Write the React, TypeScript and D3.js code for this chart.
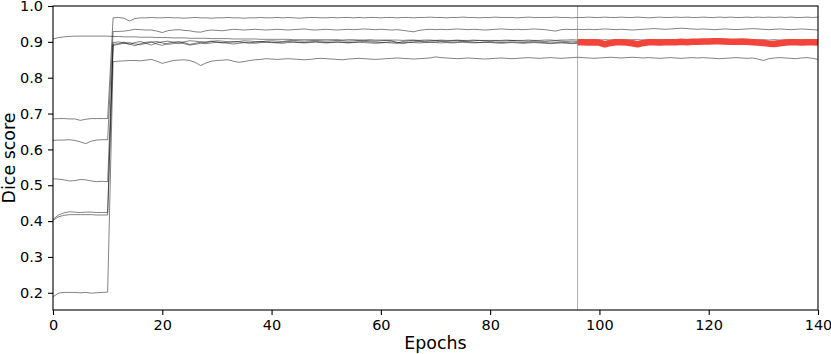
import React, { useEffect, useRef } from 'react';
import * as d3 from 'd3';

// epochs 0..140, one value per epoch
const seriesA = [0.685,0.686,0.686,0.685,0.685,0.681,0.684,0.686,0.686,0.686,0.686,
  0.967,0.968,0.966,0.958,0.965,0.967,0.967,0.968,0.967,0.967,
  0.968,0.967,0.967,0.966,0.967,0.968,0.967,0.967,0.966,0.967,
  0.967,0.968,0.967,0.967,0.966,0.967,0.967,0.968,0.967,0.967,
  0.968,0.967,0.968,0.967,0.966,0.967,0.968,0.968,0.967,0.967,
  0.968,0.967,0.968,0.968,0.967,0.968,0.967,0.968,0.968,0.967,
  0.968,0.968,0.967,0.968,0.968,0.967,0.968,0.968,0.969,0.968,
  0.968,0.967,0.968,0.968,0.969,0.968,0.968,0.967,0.968,0.968,
  0.969,0.968,0.968,0.968,0.967,0.968,0.969,0.968,0.968,0.968,
  0.968,0.969,0.968,0.968,0.967,0.968,0.968,0.969,0.968,0.968,
  0.969,0.968,0.968,0.969,0.968,0.968,0.969,0.968,0.967,0.968,
  0.969,0.968,0.968,0.969,0.968,0.969,0.968,0.968,0.969,0.968,
  0.968,0.969,0.968,0.969,0.968,0.968,0.969,0.968,0.969,0.968,
  0.969,0.968,0.969,0.968,0.969,0.968,0.968,0.969,0.968,0.969];

const seriesB = [0.625,0.626,0.626,0.627,0.625,0.621,0.616,0.623,0.626,0.627,0.627,
  0.929,0.929,0.930,0.932,0.935,0.934,0.933,0.933,0.930,0.926,
  0.931,0.933,0.934,0.932,0.931,0.928,0.927,0.931,0.933,0.932,
  0.931,0.933,0.935,0.934,0.933,0.934,0.935,0.934,0.933,0.934,
  0.935,0.934,0.933,0.934,0.935,0.936,0.934,0.933,0.934,0.935,
  0.934,0.933,0.934,0.935,0.934,0.935,0.936,0.935,0.934,0.935,
  0.934,0.933,0.934,0.932,0.930,0.928,0.932,0.934,0.935,0.934,
  0.935,0.934,0.935,0.936,0.935,0.934,0.935,0.934,0.933,0.934,
  0.935,0.936,0.935,0.934,0.935,0.934,0.935,0.936,0.935,0.934,
  0.932,0.930,0.934,0.935,0.934,0.935,0.934,0.935,0.934,0.935,
  0.936,0.935,0.934,0.935,0.934,0.933,0.934,0.935,0.936,0.937,
  0.936,0.935,0.936,0.937,0.938,0.937,0.936,0.935,0.936,0.935,
  0.934,0.935,0.936,0.935,0.934,0.935,0.936,0.937,0.936,0.935,
  0.934,0.935,0.936,0.935,0.934,0.935,0.936,0.935,0.934,0.933];

const seriesC = [0.908,0.912,0.914,0.915,0.916,0.916,0.916,0.916,0.916,0.916,0.916,
  0.915,0.915,0.914,0.914,0.914,0.913,0.913,0.913,0.912,0.912,
  0.912,0.911,0.911,0.911,0.910,0.910,0.910,0.910,0.909,0.909,
  0.909,0.909,0.908,0.908,0.908,0.908,0.908,0.907,0.907,0.907,
  0.907,0.907,0.907,0.906,0.906,0.906,0.906,0.906,0.906,0.906,
  0.906,0.906,0.905,0.906,0.906,0.905,0.905,0.906,0.905,0.905,
  0.905,0.905,0.905,0.904,0.905,0.905,0.904,0.905,0.905,0.904,
  0.905,0.904,0.904,0.905,0.904,0.904,0.905,0.904,0.904,0.904,
  0.904,0.904,0.905,0.904,0.904,0.904,0.905,0.904,0.904,0.905,
  0.905,0.904,0.905,0.905,0.906,0.905,0.905,0.906,0.905,0.905,
  0.906,0.905,0.906,0.906,0.905,0.906,0.906,0.905,0.906,0.906,
  0.906,0.905,0.906,0.906,0.905,0.906,0.905,0.906,0.906,0.905,
  0.906,0.905,0.905,0.906,0.905,0.906,0.906,0.905,0.905,0.906,
  0.905,0.906,0.905,0.905,0.906,0.905,0.906,0.905,0.905,0.906];

const seriesD = [0.518,0.517,0.515,0.512,0.513,0.516,0.515,0.512,0.510,0.511,0.510,
  0.898,0.900,0.897,0.893,0.898,0.901,0.896,0.891,0.897,0.900,
  0.902,0.899,0.895,0.900,0.903,0.902,0.900,0.898,0.901,0.903,
  0.902,0.900,0.899,0.901,0.903,0.902,0.901,0.900,0.902,0.903,
  0.902,0.901,0.903,0.904,0.903,0.902,0.903,0.904,0.903,0.902,
  0.903,0.904,0.903,0.902,0.903,0.904,0.904,0.903,0.902,0.903,
  0.904,0.903,0.897,0.901,0.903,0.904,0.903,0.902,0.903,0.904,
  0.903,0.902,0.903,0.904,0.903,0.902,0.903,0.904,0.903,0.902,
  0.903,0.902,0.903,0.904,0.903,0.902,0.902,0.903,0.902,0.901,
  0.902,0.903,0.902,0.901,0.902,0.901,0.900,0.901,0.902,0.901,
  0.900,0.901,0.900,0.901,0.902,0.901,0.900,0.901,0.902,0.901,
  0.900,0.901,0.902,0.901,0.900,0.901,0.902,0.903,0.902,0.901,
  0.902,0.901,0.900,0.901,0.902,0.901,0.900,0.901,0.902,0.901,
  0.900,0.901,0.902,0.901,0.900,0.901,0.902,0.901,0.900,0.901];

const seriesE = [0.405,0.417,0.423,0.426,0.425,0.424,0.425,0.425,0.424,0.424,0.424,
  0.893,0.895,0.899,0.894,0.889,0.895,0.899,0.900,0.894,0.890,
  0.896,0.899,0.901,0.898,0.893,0.896,0.899,0.900,0.902,0.899,
  0.897,0.899,0.901,0.900,0.898,0.897,0.899,0.901,0.900,0.899,
  0.898,0.899,0.901,0.900,0.899,0.898,0.900,0.901,0.900,0.898,
  0.899,0.900,0.899,0.898,0.899,0.900,0.901,0.900,0.899,0.898,
  0.899,0.900,0.899,0.895,0.898,0.900,0.901,0.900,0.899,0.900,
  0.901,0.900,0.899,0.900,0.901,0.900,0.899,0.898,0.899,0.900,
  0.899,0.898,0.899,0.900,0.899,0.898,0.899,0.900,0.899,0.898,
  0.897,0.898,0.899,0.898,0.897,0.898,0.899,0.898,0.899,0.898,
  0.897,0.898,0.899,0.898,0.897,0.898,0.899,0.898,0.897,0.898,
  0.899,0.898,0.897,0.898,0.899,0.898,0.897,0.898,0.899,0.898,
  0.897,0.898,0.899,0.898,0.897,0.898,0.899,0.898,0.897,0.898,
  0.899,0.898,0.897,0.898,0.899,0.898,0.897,0.898,0.899,0.898];

const seriesF = [0.402,0.412,0.416,0.418,0.418,0.418,0.418,0.418,0.417,0.417,0.417,
  0.890,0.893,0.896,0.898,0.894,0.892,0.896,0.899,0.901,0.897,
  0.893,0.895,0.898,0.895,0.891,0.893,0.896,0.895,0.897,0.899,
  0.898,0.896,0.894,0.896,0.898,0.897,0.896,0.898,0.899,0.898,
  0.897,0.896,0.898,0.899,0.898,0.897,0.898,0.899,0.898,0.897,
  0.898,0.899,0.898,0.897,0.898,0.899,0.898,0.897,0.896,0.897,
  0.898,0.897,0.896,0.898,0.899,0.898,0.897,0.898,0.899,0.898,
  0.897,0.898,0.897,0.898,0.899,0.898,0.897,0.898,0.899,0.898,
  0.897,0.896,0.897,0.898,0.897,0.896,0.897,0.898,0.897,0.896,
  0.895,0.896,0.897,0.896,0.895,0.896,0.897,0.896,0.895,0.896,
  0.895,0.896,0.897,0.896,0.895,0.896,0.895,0.896,0.897,0.896,
  0.895,0.896,0.897,0.896,0.895,0.896,0.897,0.896,0.895,0.896,
  0.897,0.896,0.895,0.896,0.897,0.896,0.895,0.896,0.897,0.896,
  0.895,0.896,0.897,0.896,0.895,0.896,0.897,0.896,0.895,0.896];

const seriesG = [0.189,0.199,0.201,0.201,0.201,0.200,0.201,0.199,0.200,0.201,0.202,
  0.845,0.846,0.847,0.848,0.848,0.847,0.849,0.851,0.846,0.840,
  0.844,0.848,0.849,0.850,0.848,0.843,0.834,0.841,0.846,0.848,
  0.849,0.850,0.846,0.843,0.845,0.848,0.850,0.851,0.853,0.852,
  0.851,0.852,0.853,0.852,0.851,0.850,0.851,0.853,0.854,0.853,
  0.852,0.851,0.850,0.852,0.853,0.854,0.853,0.852,0.851,0.852,
  0.853,0.854,0.855,0.854,0.853,0.852,0.853,0.854,0.855,0.858,
  0.856,0.855,0.854,0.853,0.854,0.855,0.854,0.853,0.852,0.853,
  0.854,0.855,0.854,0.853,0.854,0.855,0.856,0.855,0.854,0.855,
  0.856,0.855,0.854,0.855,0.856,0.857,0.856,0.855,0.854,0.855,
  0.856,0.857,0.856,0.855,0.856,0.857,0.856,0.855,0.856,0.855,
  0.854,0.855,0.856,0.855,0.854,0.855,0.856,0.855,0.856,0.855,
  0.854,0.853,0.854,0.855,0.856,0.855,0.854,0.855,0.852,0.848,
  0.853,0.855,0.856,0.855,0.854,0.853,0.855,0.856,0.854,0.851];

// highlighted run, epochs 96..140
const redStart = 96;
const redSeries = [0.899,0.899,0.898,0.899,0.898,0.893,0.897,0.899,0.899,0.898,
  0.896,0.893,0.897,0.899,0.899,0.898,0.899,0.899,0.899,0.900,
  0.899,0.900,0.900,0.901,0.901,0.902,0.902,0.901,0.900,0.900,
  0.901,0.900,0.899,0.898,0.897,0.895,0.894,0.896,0.898,0.899,
  0.899,0.898,0.899,0.899,0.898];

const markerEpoch = 96;
const xTicks = [0, 20, 40, 60, 80, 100, 120, 140];
const yTicks = [0.2, 0.3, 0.4, 0.5, 0.6, 0.7, 0.8, 0.9, 1.0];

const App = () => {
  const ref = useRef(null);

  useEffect(() => {
    const width = 831, height = 354;
    const margin = { top: 6, right: 13, bottom: 44, left: 53 };
    const innerWidth = width - margin.left - margin.right;
    const innerHeight = height - margin.top - margin.bottom;
    const font = 'DejaVu Sans, sans-serif';

    d3.select(ref.current).selectAll('*').remove();
    const svg = d3.select(ref.current)
      .attr('width', width)
      .attr('height', height)
      .append('g')
      .attr('transform', `translate(${margin.left},${margin.top})`);

    const x = d3.scaleLinear().domain([0, 140]).range([0, innerWidth]);
    const y = d3.scaleLinear().domain([0.152, 1.0]).range([innerHeight, 0]);

    const line = d3.line<number>().x((d, i) => x(i)).y(d => y(d));

    [seriesA, seriesB, seriesC, seriesD, seriesE, seriesF, seriesG].forEach(s => {
      svg.append('path')
        .datum(s)
        .attr('d', line)
        .attr('fill', 'none')
        .attr('stroke', '#000')
        .attr('stroke-opacity', 0.7)
        .attr('stroke-width', 0.7);
    });

    svg.append('line')
      .attr('x1', x(markerEpoch)).attr('x2', x(markerEpoch))
      .attr('y1', 0).attr('y2', innerHeight)
      .attr('stroke', '#777')
      .attr('stroke-width', 0.6);

    const redLine = d3.line<number>().x((d, i) => x(redStart + i)).y(d => y(d));
    svg.append('path')
      .datum(redSeries)
      .attr('d', redLine)
      .attr('fill', 'none')
      .attr('stroke', '#f2443a')
      .attr('stroke-width', 6.5)
      .attr('stroke-linejoin', 'round');

    // frame
    svg.append('rect')
      .attr('width', innerWidth).attr('height', innerHeight)
      .attr('fill', 'none').attr('stroke', '#000').attr('stroke-width', 1.1);

    const xAxis = svg.append('g')
      .attr('transform', `translate(0,${innerHeight})`)
      .call(d3.axisBottom(x).tickValues(xTicks).tickSize(5).tickPadding(5));
    const yAxis = svg.append('g')
      .call(d3.axisLeft(y).tickValues(yTicks).tickSize(5).tickPadding(5).tickFormat(d3.format('.1f')));

    [xAxis, yAxis].forEach(g => {
      g.select('.domain').remove();
      g.selectAll('line').attr('stroke', '#000').attr('stroke-width', 1.1);
      g.selectAll('text').attr('fill', '#000').style('font-family', font).style('font-size', '14.5px');
    });

    svg.append('text')
      .attr('x', innerWidth / 2)
      .attr('y', innerHeight + 39)
      .attr('text-anchor', 'middle')
      .style('font-family', font)
      .style('font-size', '17.4px')
      .text('Epochs');

    svg.append('text')
      .attr('transform', `translate(${-margin.left + 15},${innerHeight / 2}) rotate(-90)`)
      .attr('text-anchor', 'middle')
      .style('font-family', font)
      .style('font-size', '17.4px')
      .text('Dice score');
  }, []);

  return (
    <svg ref={ref} style={{ position: 'absolute', left: 0, top: 0, background: '#fff' }}></svg>
  );
};

export default App;
